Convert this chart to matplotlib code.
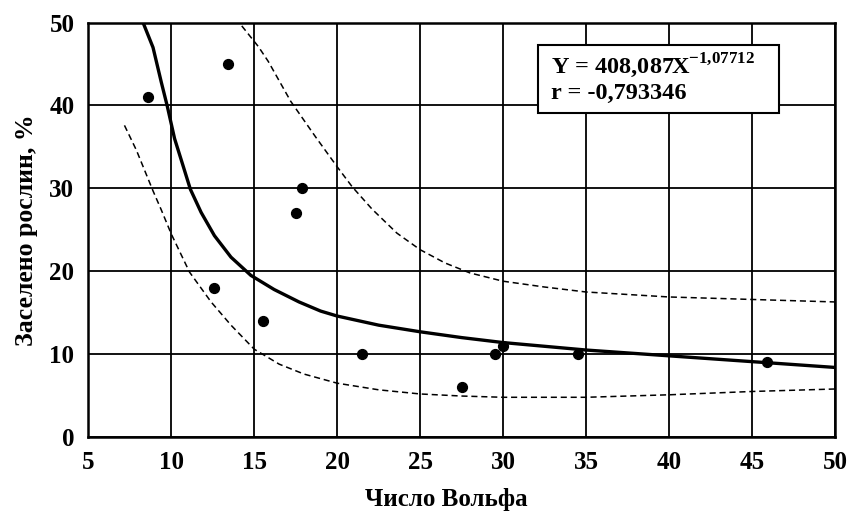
import matplotlib
matplotlib.use("Agg")
import matplotlib.pyplot as plt
from matplotlib.patches import Rectangle

plt.rcParams["font.family"] = ["Liberation Serif", "DejaVu Serif"]
plt.rcParams["font.weight"] = "bold"
plt.rcParams["mathtext.fontset"] = "custom"
plt.rcParams["mathtext.rm"] = "Liberation Serif:bold"
plt.rcParams["mathtext.bf"] = "Liberation Serif:bold"

# observed points: Wolf number vs. share of colonised plants
wolf_number = [8.6, 13.4, 12.6, 17.5, 17.9, 15.5, 21.5, 27.5, 29.5, 30.0, 34.5, 45.9]
colonised_pct = [41, 45, 18, 27, 30, 14, 10, 6, 10, 11, 10, 9]

# fitted regression curve
fit_x = [8.3, 8.9, 9.4, 9.75, 10.2, 10.7, 11.15, 11.8, 12.6, 13.6, 14.8, 16.2,
         17.7, 19.0, 20.0, 22.5, 25.0, 27.5, 30.0, 35.0, 40.0, 45.0, 50.0]
fit_y = [50.0, 47.0, 42.8, 40.0, 36.0, 32.8, 29.9, 27.1, 24.3, 21.7, 19.5, 17.8,
         16.3, 15.2, 14.6, 13.5, 12.7, 12.0, 11.4, 10.5, 9.8, 9.1, 8.4]

# confidence band, upper and lower limits
upper_x = [14.25, 15.25, 15.85, 17.2, 18.7, 20.0, 20.9, 22.1, 23.6, 25.0, 26.5,
           28.0, 30.0, 32.5, 35.0, 40.0, 45.0, 50.0]
upper_y = [49.6, 47.1, 45.3, 40.5, 36.2, 32.6, 30.2, 27.5, 24.6, 22.6, 21.0,
           19.8, 18.8, 18.1, 17.5, 16.9, 16.6, 16.3]
lower_x = [7.18, 7.9, 8.9, 9.4, 10.0, 11.1, 12.4, 13.6, 15.0, 16.5, 18.0, 20.0,
           22.5, 25.0, 27.5, 30.0, 35.0, 40.0, 45.0, 50.0]
lower_y = [37.6, 34.6, 29.7, 27.4, 24.5, 19.9, 16.3, 13.5, 10.6, 8.8, 7.6, 6.5,
           5.7, 5.2, 4.95, 4.8, 4.8, 5.1, 5.5, 5.8]

equation = r"Y = 408,087X$^{\mathbf{-1{,}07712}}$"
corr_text = "r = -0,793346"

fig = plt.figure(figsize=(8.49, 5.13), dpi=100)
ax = fig.add_axes([0.104, 0.148, 0.8795, 0.808])

ax.plot(fit_x, fit_y, color="black", lw=2.4, solid_joinstyle="round", zorder=4)
for xs, ys in [(upper_x, upper_y), (lower_x, lower_y)]:
    ln, = ax.plot(xs, ys, color="black", lw=1.1, zorder=3)
    ln.set_dashes([4, 2.5])
ax.scatter(wolf_number, colonised_pct, s=50, color="black", zorder=5)

ax.set_xlim(5, 50)
ax.set_ylim(0, 50)
ax.set_xticks(range(5, 51, 5))
ax.set_yticks(range(0, 51, 10))
ax.grid(True, color="black", lw=1.3)
ax.set_axisbelow(True)
for sp in ax.spines.values():
    sp.set_linewidth(1.8)
ax.tick_params(length=0, labelsize=18, pad=10)

ax.set_xlabel("Число Вольфа", fontsize=18, fontweight="bold")
ax.xaxis.set_label_coords(0.48, -0.122)
ax.set_ylabel("Заселено рослин, %", fontsize=18.5, fontweight="bold", labelpad=8)

# equation box
ax.add_patch(Rectangle((0.602, 0.782), 0.323, 0.164, transform=ax.transAxes,
                       facecolor="white", edgecolor="black", lw=1.5, zorder=6))
ax.text(0.62, 0.895, equation, transform=ax.transAxes, fontsize=17.5,
        va="center", ha="left", zorder=7)
ax.text(0.62, 0.828, corr_text, transform=ax.transAxes, fontsize=17.5,
        va="center", ha="left", zorder=7)

fig.savefig("out.png", dpi=100)
